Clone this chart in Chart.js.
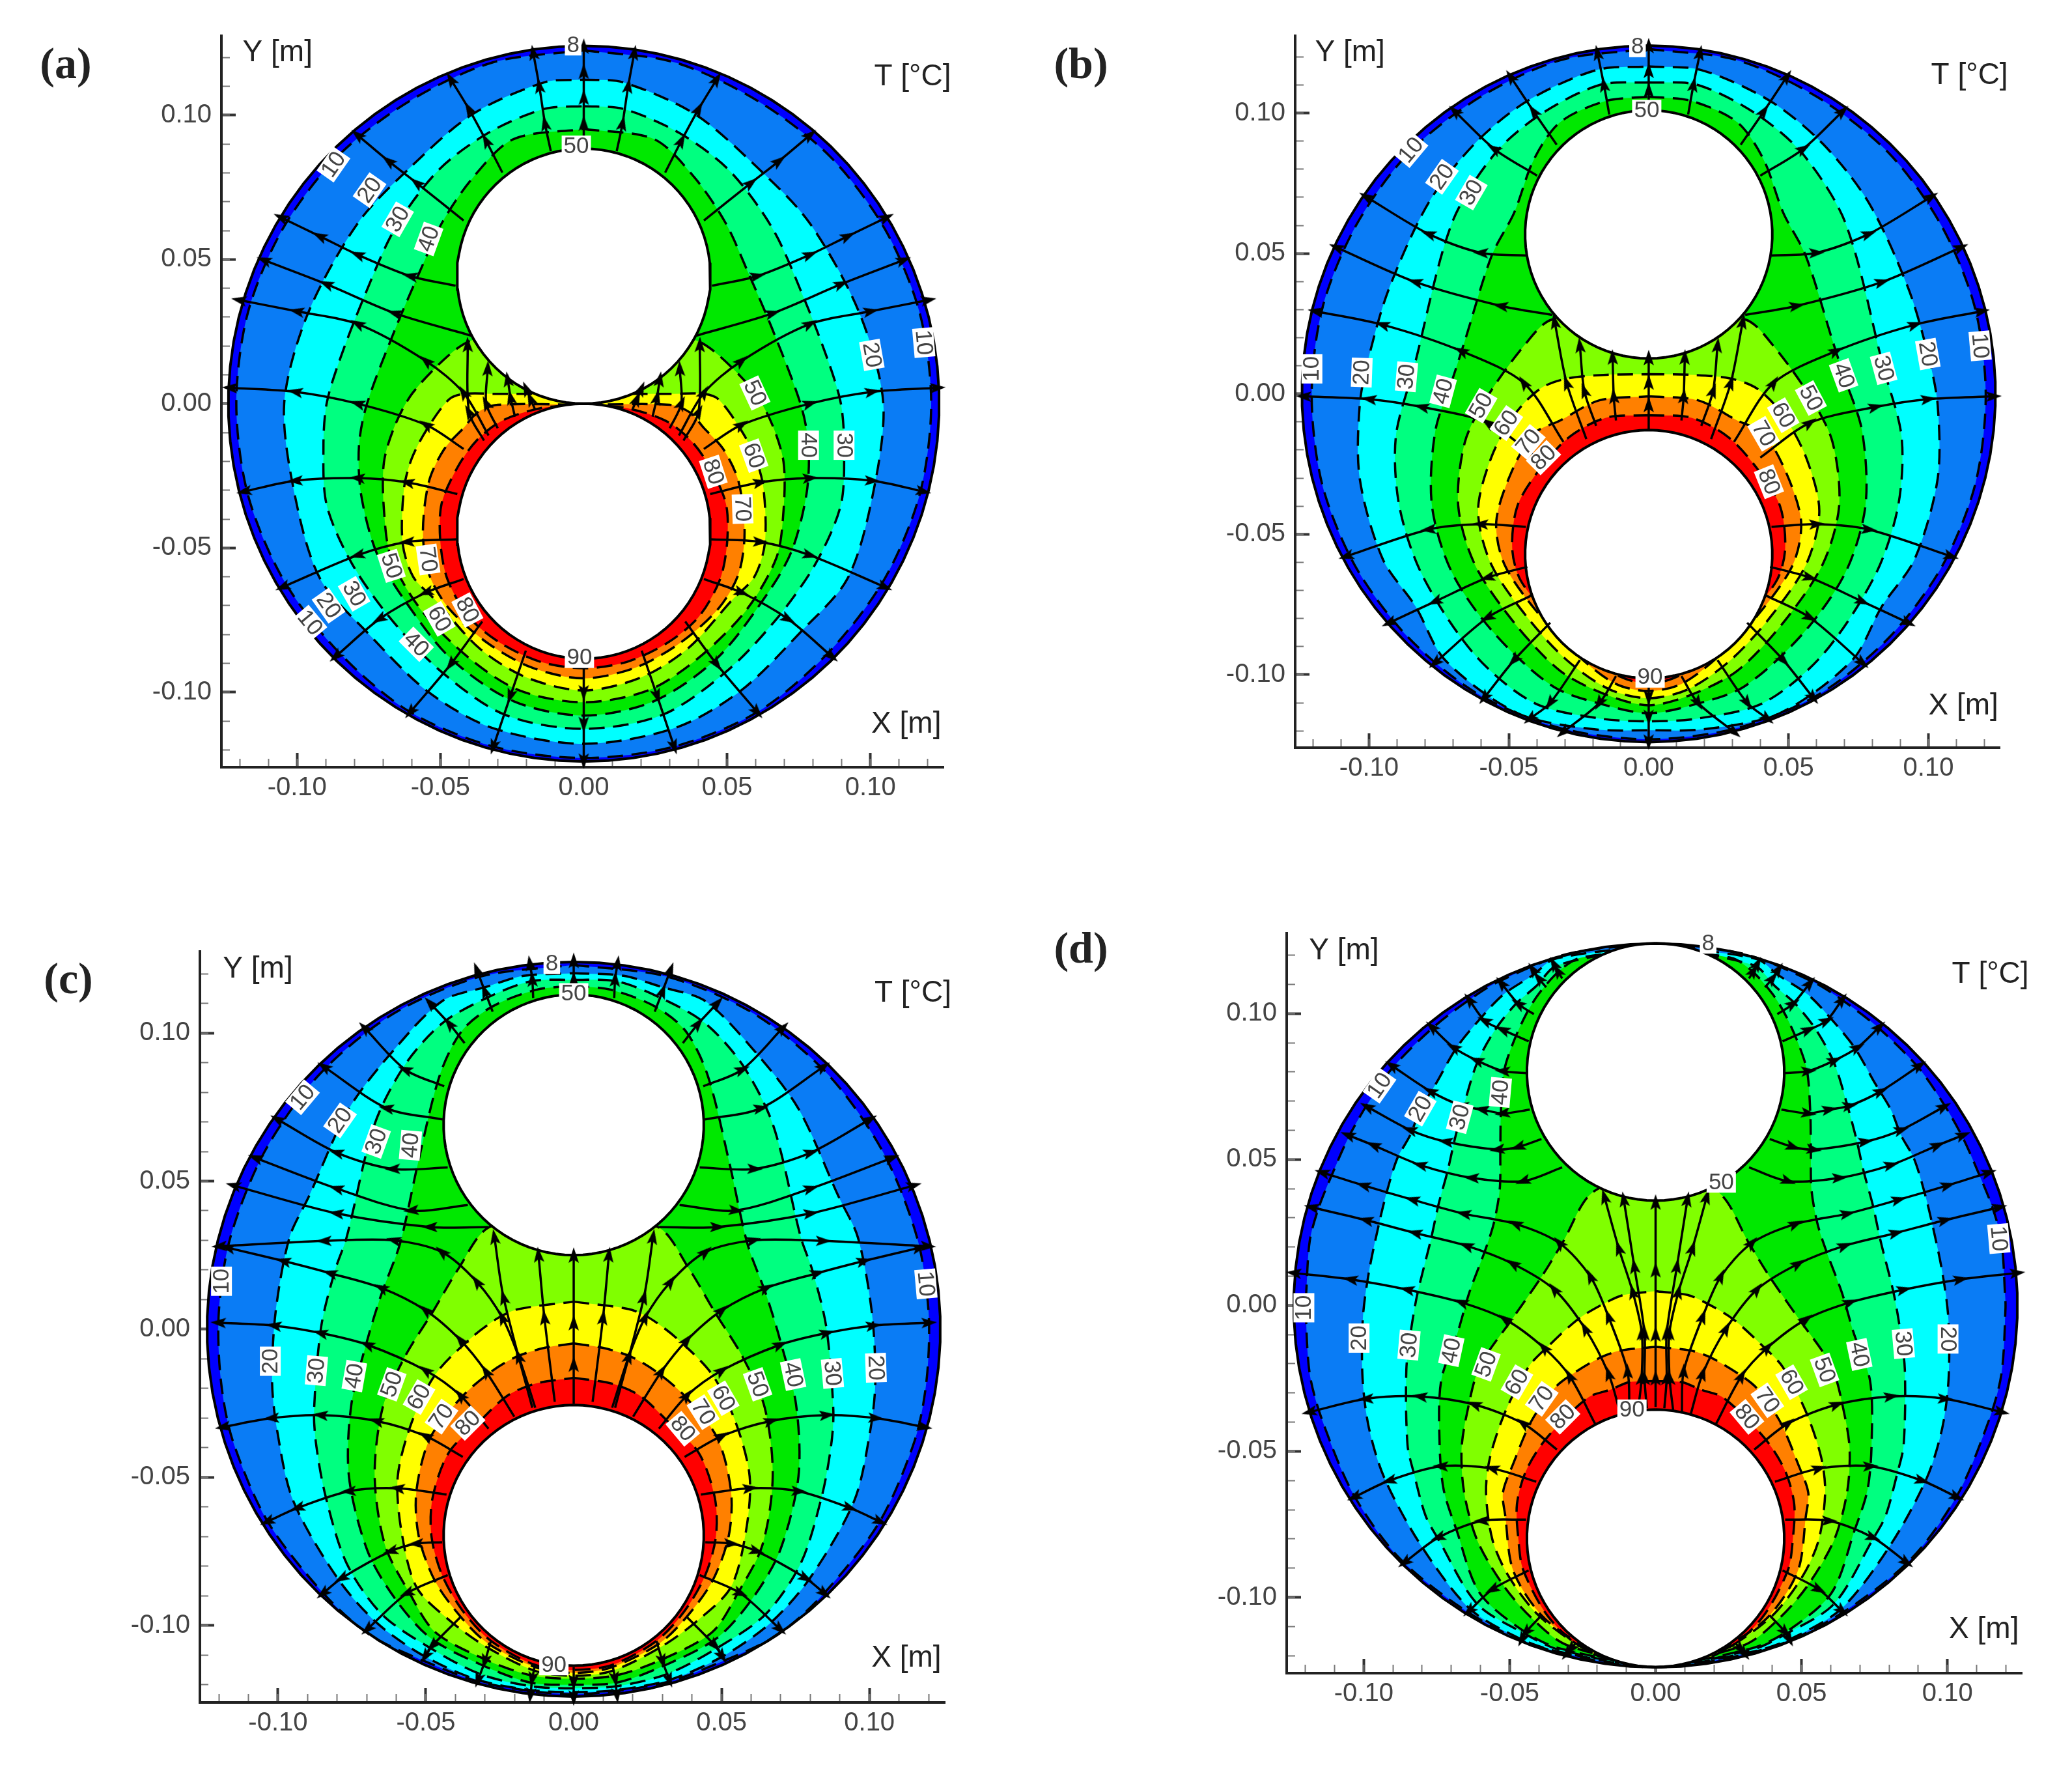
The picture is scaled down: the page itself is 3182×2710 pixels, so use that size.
<!DOCTYPE html>
<html>
<head>
<meta charset="utf-8">
<title>Temperature field between two pipes</title>
<script src="https://cdn.jsdelivr.net/npm/chart.js@4/dist/chart.umd.js"></script>
<style>
  html, body { margin: 0; padding: 0; background: #fff; }
  #page { position: relative; width: 3182px; height: 2710px; overflow: hidden; }
  canvas { position: absolute; }
  .letter { position: absolute; font: bold 68px "Liberation Serif", serif; color: #222; transform: translate(-50%, -50%); }
</style>
</head>
<body>
<div id="page"></div>
<script>
// Values, in metres. Every contour and flux line is the
// right half only (x >= 0), the plots are mirror images about X = 0.
const panelNames = ['(a)', '(b)', '(c)', '(d)'];
const contourLevels = [10, 20, 30, 40, 50, 60, 70, 80];
const tickLabels = ['-0.10', '-0.05', '0.00', '0.05', '0.10'];

const outerRadius = [0.124, 0.124, 0.124, 0.124];
const pipeRadius = [0.0442, 0.0442, 0.0440, 0.0441];
const upperPipeY = [0.0442, 0.0568, 0.0690, 0.0800];
const lowerPipeY = [-0.0442, -0.0571, -0.0696, -0.0798];

const contoursA = [
  [[0,.1225],[.0317,.1183],[.0606,.105],[.0858,.0858],[.105,.0606],[.1172,.0314],[.1212,0],[.1172,-.0314],[.105,-.0606],[.0858,-.0858],[.0612,-.1065],[.0317,-.1188],[0,-.1228]],
  [[0,.1123],[.0137,.1114],[.0387,.1004],[.0604,.082],[.0788,.0626],[.0962,.0313],[.1045,0],[.1005,-.0331],[.0919,-.0608],[.0756,-.0792],[.0549,-.0994],[.0321,-.1123],[0,-.1179]],
  [[0,.1031],[.0137,.1022],[.0332,.0939],[.0506,.081],[.0658,.0608],[.0767,.0368],[.0853,.0147],[.0897,0],[.0908,-.0144],[.0897,-.035],[.081,-.0552],[.068,-.0737],[.0506,-.0921],[.0278,-.1077],[0,-.1127]],
  [[0,.0952],[.0245,.0917],[.0387,.0783],[.0495,.0626],[.0571,.046],[.0658,.0258],[.0756,0],[.0784,-.0144],[.0777,-.0313],[.0723,-.0516],[.0625,-.0681],[.0463,-.0884],[.0245,-.1031],[0,-.1081]],
  [[0,.03],[.0387,.0221],[.0473,.0166],[.0597,.0037],[.0658,-.0074],[.0697,-.0203],[.0697,-.0368],[.0672,-.0534],[.0565,-.0718],[.0397,-.0884],[.0224,-.0994],[0,-.1035]],
  [[0,.0034],[.013,.0034],[.03,.0034],[.0418,.0034],[.047,.0015],[.0548,-.009],[.06,-.019],[.0627,-.0294],[.0632,-.0482],[.0595,-.06],[.0517,-.0681],[.0365,-.0847],[.0202,-.0948],[0,-.0994]],
  [[0,-.0004],[.03,-.0004],[.037,-.003],[.0418,-.0083],[.0487,-.0158],[.054,-.027],[.0561,-.0445],[.054,-.059],[.047,-.071],[.0335,-.083],[.018,-.0915],[0,-.0952]],
  [[0,-.0005],[.0148,-.0015],[.0287,-.006],[.0374,-.0128],[.044,-.022],[.0496,-.0347],[.05,-.0482],[.0475,-.061],[.04,-.074],[.029,-.083],[.015,-.0895],[0,-.0917]]
];
const contoursB = [
  [[0,.1228],[.0317,.1188],[.0606,.1055],[.0858,.0858],[.1045,.0602],[.1165,.0312],[.1205,0],[.1168,-.032],[.105,-.0612],[.0862,-.0865],[.0612,-.1068],[.0317,-.119],[0,-.123]],
  [[0,.1166],[.0188,.1153],[.0434,.1043],[.0622,.0891],[.0786,.0682],[.0927,.0379],[.0998,.0142],[.1033,-.0038],[.1033,-.0303],[.0951,-.0588],[.0833,-.0758],[.0728,-.0948],[.0469,-.1137],[.02,-.1194],[0,-.1198]],
  [[0,.1109],[.0176,.11],[.0387,.0995],[.0552,.0853],[.0704,.0607],[.084,.0091],[.0904,-.0152],[.0892,-.0398],[.081,-.0645],[.0622,-.0929],[.0411,-.11],[.0176,-.1156],[0,-.1166]],
  [[0,.1058],[.0153,.1043],[.0317,.0967],[.0411,.0834],[.0481,.0645],[.0561,.0493],[.0657,.019],[.0697,.0066],[.0763,-.0133],[.0775,-.0398],[.0704,-.0635],[.0552,-.0853],[.034,-.1043],[.0153,-.1109],[0,-.1137]],
  [[0,.03],[.0345,.0265],[.0446,.0171],[.058,-.0015],[.0657,-.0171],[.0681,-.0398],[.0622,-.0607],[.0481,-.0815],[.0317,-.0986],[.0153,-.1071],[0,-.1109]],
  [[0,.007],[.015,.0068],[.029,.0055],[.0387,.0019],[.0481,-.0076],[.0563,-.0227],[.061,-.0417],[.0563,-.0607],[.0434,-.0796],[.0293,-.0948],[.0141,-.1052],[0,-.1084]],
  [[0,-.0009],[.0176,-.0023],[.0317,-.0095],[.0411,-.0142],[.0493,-.0284],[.0545,-.0455],[.0516,-.0607],[.0399,-.0777],[.0246,-.0938],[.0117,-.1033],[0,-.1058]],
  [[0,-.0076],[.0153,-.0085],[.0282,-.0152],[.0387,-.0265],[.0469,-.0398],[.0488,-.055],[.0458,-.0664],[.0352,-.0796],[.0223,-.0929],[.0106,-.1005],[0,-.1033]]
];
const contoursC = [
  [[0,.123],[.0317,.119],[.061,.1065],[.086,.086],[.1045,.06],[.1161,.031],[.12,.0058],[.1193,-.0174],[.1153,-.0376],[.1035,-.0649],[.0847,-.0891],[.0689,-.1032],[.0501,-.1122],[.03,-.1195],[0,-.1232]],
  [[0,.1202],[.0169,.1193],[.0295,.1156],[.0443,.1109],[.0601,.0951],[.0759,.0746],[.0896,.0447],[.0961,.031],[.1008,.0058],[.102,-.0174],[.1004,-.0335],[.0949,-.0578],[.0799,-.084],[.0666,-.0991],[.0508,-.1102],[.0327,-.1183],[.0146,-.1218],[0,-.1225]],
  [[0,.118],[.0148,.1174],[.0295,.1118],[.0443,.1034],[.0569,.0895],[.0674,.069],[.0768,.031],[.0807,.0199],[.0854,.0008],[.0878,-.0275],[.087,-.0396],[.0838,-.0568],[.0768,-.079],[.065,-.0961],[.0492,-.1072],[.0319,-.1163],[.0146,-.1205],[0,-.1212]],
  [[0,.1159],[.0126,.1146],[.0274,.109],[.0379,.1006],[.0453,.0857],[.0527,.0559],[.0587,.029],[.065,.0119],[.0697,-.0033],[.0752,-.0255],[.076,-.0497],[.0697,-.0749],[.0603,-.0911],[.0485,-.1042],[.0312,-.1133],[.0146,-.1193],[0,-.12]],
  [[0,.04],[.0285,.0345],[.039,.0204],[.0477,.0058],[.0571,-.0093],[.0646,-.0265],[.0673,-.0497],[.0638,-.0729],[.0555,-.0891],[.0469,-.1022],[.0303,-.1113],[.0146,-.1168],[0,-.118]],
  [[0,.0093],[.0186,.0068],[.0256,.0038],[.0351,-.0033],[.0469,-.0154],[.0548,-.0315],[.0595,-.0497],[.0583,-.0679],[.0532,-.087],[.0422,-.0981],[.0296,-.1072],[.0131,-.1153],[0,-.117]],
  [[0,-.0048],[.0099,-.0063],[.0194,-.0093],[.028,-.0144],[.0375,-.0225],[.0485,-.0366],[.0532,-.0547],[.0524,-.0699],[.0469,-.085],[.0382,-.0971],[.0288,-.1062],[.0123,-.1143],[0,-.116]],
  [[0,-.0164],[.0131,-.0184],[.0225,-.0225],[.0312,-.0305],[.0422,-.0416],[.0477,-.0568],[.0481,-.0699],[.0445,-.083],[.0375,-.0951],[.028,-.1052],[.0131,-.1133],[0,-.115]]
];
const contoursD = [
  [[0,.124],[.03,.1205],[.0541,.1108],[.0647,.1041],[.0766,.0949],[.0903,.0812],[.0991,.0684],[.1053,.0574],[.1106,.0455],[.1154,.0336],[.1185,.0221],[.1197,.0045],[.1199,-.0008],[.1185,-.0235],[.1141,-.0397],[.1035,-.0648],[.0876,-.0868],[.0638,-.1054],[.04,-.117],[0,-.124]],
  [[0,.1235],[.0347,.1187],[.0417,.1134],[.0523,.1064],[.0603,.098],[.0682,.0883],[.0753,.0759],[.0806,.0671],[.0841,.0583],[.0885,.0504],[.0921,.0389],[.0947,.0283],[.0982,.0116],[.1003,-.0043],[.1004,-.0251],[.0982,-.0421],[.0929,-.0592],[.0806,-.0819],[.0638,-.1038],[.0462,-.1143],[.0338,-.1185],[0,-.1238]],
  [[0,.123],[.0338,.1165],[.0409,.1094],[.0479,.1033],[.055,.0944],[.0612,.083],[.0656,.0689],[.0687,.0574],[.0713,.0459],[.0744,.0345],[.0771,.0221],[.0815,.0045],[.0837,-.0078],[.0854,-.0219],[.085,-.0478],[.0828,-.0576],[.0788,-.0721],[.0744,-.0802],[.0612,-.1022],[.0444,-.1127],[.0329,-.118],[0,-.1235]],
  [[0,.122],[.0259,.1191],[.0329,.1147],[.04,.1068],[.0444,.0997],[.0488,.09],[.0519,.0803],[.053,.0662],[.0532,.053],[.0534,.0398],[.0554,.0283],[.0585,.0186],[.0638,.0045],[.0678,-.0092],[.0735,-.0259],[.074,-.0478],[.0726,-.0632],[.0682,-.077],[.0603,-.0985],[.0453,-.1115],[.0329,-.1175],[0,-.123]],
  [[0,.045],[.0214,.0389],[.032,.0213],[.0391,.0098],[.0488,-.0042],[.0603,-.021],[.0647,-.0373],[.0665,-.0495],[.0656,-.0641],[.0612,-.0803],[.0523,-.0957],[.0426,-.107],[.0303,-.1164],[0,-.1225]],
  [[0,.0049],[.0109,.0036],[.017,.001],[.0263,-.0045],[.0365,-.0137],[.0435,-.021],[.0515,-.0364],[.0567,-.0519],[.0581,-.0641],[.0559,-.0803],[.0506,-.0924],[.0409,-.1054],[.0285,-.1151],[.017,-.121],[0,-.122]],
  [[0,-.0142],[.0117,-.0154],[.0188,-.0178],[.0285,-.0235],[.0347,-.0284],[.0426,-.0397],[.0488,-.0543],[.0523,-.0641],[.0515,-.0721],[.0488,-.0908],[.0391,-.1062],[.0259,-.116],[.017,-.12],[0,-.1215]],
  [[0,-.0259],[.0091,-.0263],[.0153,-.0288],[.0232,-.0316],[.0373,-.0454],[.0444,-.0567],[.0475,-.0681],[.047,-.0803],[.0453,-.0908],[.0365,-.107],[.0241,-.1176],[0,-.121]]
];

// flux lines, listed from the warm end to the cold end
const fluxA = [
  [[0,.0884],[0,.097],[0,.106],[0,.115],[0,.1237]],
  [[.0115,.0875],[.0135,.097],[.0155,.11],[.0176,.1215]],
  [[.0284,.0801],[.034,.091],[.04,.102],[.0463,.1123]],
  [[.0419,.0635],[.0582,.0764],[.068,.084],[.0788,.093]],
  [[.0447,.0409],[.0604,.0442],[.0788,.0516],[.092,.058],[.1055,.0645]],
  [[.0393,.0236],[.0658,.0313],[.0897,.0414],[.1114,.0497]],
  [[.0332,-.011],[.0419,.0037],[.0549,.0147],[.0788,.0276],[.1,.032],[.1201,.0359]],
  [[.0419,-.0157],[.0549,-.0074],[.0788,0],[.1005,.0041],[.1233,.0055]],
  [[.0441,-.0313],[.0615,-.0273],[.0788,-.0258],[.1005,-.0267],[.1183,-.0304]],
  [[.0441,-.047],[.0615,-.0479],[.0788,-.0525],[.1049,-.0635]],
  [[.0419,-.0608],[.0549,-.0654],[.0712,-.0746],[.0864,-.0875]],
  [[.0354,-.0755],[.0463,-.0902],[.0604,-.1068]],
  [[.0202,-.0856],[.0256,-.1013],[.0315,-.1188]],
  [[0,-.0884],[0,-.1],[0,-.111],[0,-.1237]],
  [[.0348,-.0128],[.04,-.003],[.0405,.0203]],
  [[.03,-.0085],[.034,0],[.0335,.012]],
  [[.024,-.0045],[.0255,.002],[.0265,.0083]],
  [[.017,-.002],[.0185,.0015],[.02,.005]]
];
const fluxB = [
  [[0,.1009],[0,.108],[0,.115],[0,.1238]],
  [[.0141,.0995],[.016,.11],[.0183,.1213]],
  [[.0329,.0887],[.0411,.1005],[.0493,.1128]],
  [[.0399,.0777],[.0552,.0872],[.0692,.1005]],
  [[.0439,.0493],[.0599,.0502],[.0786,.0569],[.1009,.0701]],
  [[.0345,.0281],[.0528,.0313],[.0833,.0398],[.1115,.0521]],
  [[.0305,-.0171],[.0446,.0038],[.0669,.0152],[.0951,.0246],[.119,.0294]],
  [[.0399,-.0227],[.0575,-.0104],[.081,-.0047],[.0998,-.0019],[.1232,-.0009]],
  [[.0439,-.0474],[.0599,-.0464],[.0786,-.0483],[.108,-.0578]],
  [[.0434,-.0616],[.0575,-.0654],[.0763,-.0739],[.0927,-.0815]],
  [[.0423,-.072],[.0575,-.0796],[.0763,-.0957]],
  [[.0352,-.0815],[.0481,-.0948],[.0587,-.1081]],
  [[.0246,-.0948],[.0352,-.11],[.0423,-.1156]],
  [[.0117,-.1005],[.0176,-.11],[.0305,-.1204]],
  [[0,-.1014],[0,-.108],[0,-.115],[0,-.1238]],
  [[.0117,-.0095],[.0125,-.001],[.0129,.0129]],
  [[.0188,-.0114],[.023,.001],[.0246,.0171]],
  [[.0223,-.0161],[.0293,.0038],[.0336,.0256]],
  [[0,-.0129],[0,-.004],[0,.004],[0,.0127]]
];
const fluxC = [
  [[0,.1133],[0,.118],[0,.1243]],
  [[.0137,.1118],[.014,.118],[.0148,.1234]],
  [[.0274,.1072],[.03,.114],[.0327,.1212]],
  [[.0369,.0966],[.042,.103],[.0485,.11]],
  [[.0438,.082],[.0569,.0876],[.0706,.1016]],
  [[.0443,.0708],[.0632,.0746],[.0843,.0885]],
  [[.0426,.0546],[.0611,.0541],[.0801,.0596],[.1001,.0708]],
  [[.0358,.0419],[.0548,.0401],[.0801,.0475],[.1075,.0578]],
  [[.0289,.0345],[.0485,.0345],[.0801,.0391],[.1149,.0485]],
  [[.013,-.0265],[.0186,-.0093],[.0241,.0038],[.0327,.0159],[.0445,.026],[.0607,.03],[.0843,.0298],[.1197,.028]],
  [[.0201,-.0295],[.0296,-.0144],[.0382,-.0038],[.05,.0063],[.065,.0139],[.0823,.0189],[.098,.023],[.1169,.0275]],
  [[.0288,-.0336],[.0382,-.0225],[.05,-.014],[.0697,-.0053],[.0855,-.0013],[.1012,.0012],[.12,.0022]],
  [[.0375,-.0431],[.05,-.0361],[.0666,-.031],[.0855,-.029],[.102,-.03],[.1185,-.033]],
  [[.043,-.0558],[.0595,-.0537],[.076,-.0547],[.0933,-.0603],[.1035,-.0649]],
  [[.0445,-.0719],[.0532,-.0724],[.0618,-.0749],[.0784,-.084],[.0847,-.0891]],
  [[.0426,-.083],[.0563,-.0891],[.0697,-.1012]],
  [[.0382,-.0971],[.0477,-.1067],[.0501,-.1103]],
  [[.028,-.1052],[.03,-.112],[.0323,-.1183]],
  [[.0131,-.1133],[.014,-.118],[.0146,-.1234]],
  [[0,-.1141],[0,-.119],[0,-.1243]],
  [[0,-.0252],[0,-.012],[0,.002],[0,.0248]],
  [[.0064,-.0245],[.0099,.0038],[.0119,.025]],
  [[.014,-.0265],[.0237,.0106],[.0268,.031]]
];
const fluxD = [
  [[.032,.112],[.0335,.1145],[.0348,.1169]],
  [[.0375,.109],[.04,.112],[.042,.115]],
  [[.0417,.0998],[.047,.1033],[.0528,.1103]],
  [[.0435,.0905],[.0523,.0944],[.0585,.0975],[.0638,.1046]],
  [[.0444,.0796],[.0523,.0803],[.0612,.0839],[.0691,.0883],[.0766,.0953]],
  [[.0431,.0671],[.0523,.0658],[.0594,.0671],[.0664,.0684],[.077,.0733],[.0903,.0821]],
  [[.0391,.057],[.047,.0543],[.0541,.0534],[.0718,.0561],[.0841,.0601],[.0987,.068]],
  [[.032,.0473],[.0453,.0426],[.0629,.0437],[.0806,.0481],[.0965,.0548],[.1053,.0583]],
  [[.009,-.0366],[.0096,-.0227],[.0161,-.004],[.0223,.0098],[.0329,.0213],[.0479,.0279],[.0656,.0314],[.0832,.0362],[.1,.0411],[.1141,.0455]],
  [[.012,-.0374],[.0161,-.0235],[.0241,-.0081],[.0347,.0054],[.0488,.0142],[.0647,.0204],[.0823,.0248],[.0991,.0292],[.1177,.0336]],
  [[.0206,-.0408],[.0294,-.0243],[.0382,-.0146],[.0515,-.0048],[.0665,.001],[.085,.0054],[.1044,.0089],[.1238,.0111]],
  [[.0338,-.0494],[.0453,-.0405],[.062,-.034],[.0806,-.0312],[.0991,-.032],[.1185,-.0365]],
  [[.0409,-.0604],[.0559,-.0559],[.0735,-.0551],[.0912,-.06],[.1031,-.0656]],
  [[.0444,-.0734],[.0594,-.0738],[.0744,-.0795],[.0859,-.088]],
  [[.0435,-.0908],[.0559,-.0973],[.0638,-.1046]],
  [[.0391,-.1062],[.0444,-.1119],[.0457,-.1143]],
  [[.0276,-.116],[.029,-.1176],[.0303,-.1192]],
  [[0,-.0348],[0,-.025],[0,-.01],[0,.012],[0,.0352]],
  [[.003,-.0352],[.0038,-.025],[.0038,-.0096],[.0073,.0133],[.0109,.0362]],
  [[.006,-.0358],[.0048,-.025],[.0047,-.0096],[.0078,.0045],[.0126,.0195],[.0175,.0371]]
];

// contour labels: text, x, y, angle in degrees
const labelsA = [
  ['8',-.0037,.1243,0],['50',-.0026,.0893,0],['90',-.0015,-.088,0],
  ['10',.1186,.0212,85],['20',.1005,.0169,80],['50',.0597,.0037,65],['60',.0593,-.018,70],['40',.0784,-.0144,90],['30',.0908,-.0144,90],['80',.0452,-.0236,72],['70',.0554,-.0365,88],
  ['10',-.0873,.0829,-55],['20',-.0747,.074,-55],['30',-.0649,.0639,-60],['40',-.0541,.0571,-70],['50',-.0671,-.0562,72],['70',-.0543,-.054,82],['60',-.0504,-.0746,60],['80',-.0406,-.0715,62],['30',-.0801,-.0659,60],['20',-.089,-.07,55],['10',-.0955,-.0759,50],['40',-.0584,-.0834,45]
];
const labelsB = [
  ['8',-.004,.1236,0],['50',-.0007,.101,0],['90',.0005,-.1009,0],
  ['10',-.085,.0868,-50],['20',-.0739,.0773,-55],['30',-.0634,.0717,-60],['10',-.1204,.0089,-90],['20',-.1026,.0076,-88],['30',-.0866,.0061,-85],['40',-.0735,.0009,-75],['50',-.0599,-.0042,-60],['60',-.0509,-.0104,-55],['70',-.043,-.0171,-50],['80',-.0376,-.0227,-45],
  ['10',.1185,.0171,85],['20',.0998,.0142,80],['30',.084,.0091,75],['40',.0697,.0066,70],['50',.058,-.0015,62],['60',.0481,-.0076,60],['70',.0411,-.0142,60],['80',.043,-.0313,68]
];
const labelsC = [
  ['8',-.0074,.1234,0],['50',0,.1133,0],['90',-.0067,-.1133,0],
  ['10',-.0917,.0783,-50],['20',-.079,.0705,-55],['30',-.0668,.0634,-70],['40',-.0552,.0621,-85],['10',-.1191,.0162,-90],['20',-.1026,-.0108,-90],['30',-.087,-.014,-85],['40',-.0742,-.0158,-80],['50',-.0615,-.0186,-70],['60',-.0523,-.0229,-60],['70',-.0447,-.0295,-55],['80',-.0358,-.0317,-45],
  ['10',.1191,.0153,85],['20',.1022,-.013,88],['30',.0875,-.0149,85],['40',.0742,-.0153,78],['50',.0622,-.0186,70],['60',.0506,-.0233,60],['70',.0438,-.028,58],['80',.0369,-.0336,50]
];
const labelsD = [
  ['8',.018,.1241,0],['50',.0225,.0422,0],['90',-.0081,-.0358,0],
  ['10',-.0946,.0753,-55],['20',-.0806,.0674,-60],['30',-.0671,.0645,-75],['40',-.0532,.073,-85],['10',-.1205,-.0008,-90],['20',-.1016,-.0112,-90],['30',-.0845,-.0136,-85],['40',-.07,-.0155,-78],['50',-.0581,-.0202,-70],['60',-.0475,-.0263,-60],['70',-.039,-.032,-55],['80',-.0318,-.0382,-45],
  ['10',.1176,.0229,85],['20',.1002,-.0115,90],['30',.0849,-.0131,85],['40',.0698,-.0168,78],['50',.0579,-.0221,70],['60',.0466,-.0263,60],['70',.0383,-.0325,55],['80',.0313,-.0382,50]
];

// axis captions, same place in all four plots
const captions = [['Y [m]', -.1068, .1215], ['T [\u00b0C]', .1147, .1133], ['X [m]', .1125, -.1112]];

// colour bands, coldest first (8-10 ... 80-90)
const bandColors = ['#0000ff', '#0a7cf5', '#00ffff', '#00ff80', '#00e800', '#80ff00', '#ffff00', '#ff8000', '#ff0000'];

// where each plot sits on the page: left, top, right, bottom of the plot area
const plotBoxes = [[340, 55, 1449, 1178], [1989, 55, 3071, 1148], [307, 1461, 1451, 2614], [1976, 1433, 3105, 2569]];
const letterSpots = [[101, 97], [1660, 97], [105, 1502], [1660, 1455]];
const xRange = [-0.1264, 0.1255];
const yRange = [-0.126, 0.1275];

const contourSets = [contoursA, contoursB, contoursC, contoursD];
const fluxSets = [fluxA, fluxB, fluxC, fluxD];
const labelSets = [labelsA, labelsB, labelsC, labelsD];

// narrow arrow head, tip up, used as the point style of the flux lines
const arrowHead = document.createElement('canvas');
arrowHead.width = 20;
arrowHead.height = 28;
(function() {
  var c = arrowHead.getContext('2d');
  c.fillStyle = '#000';
  c.beginPath();
  c.moveTo(10, 1);
  c.lineTo(18, 25);
  c.lineTo(10, 20);
  c.lineTo(2, 25);
  c.closePath();
  c.fill();
})();

function toPoints(list) {
  return list.map(function(p) { return { x: p[0], y: p[1] }; });
}

// right half, then back up the left side
function closedContour(half) {
  var left = half.slice(0, -1).reverse().map(function(p) { return [-p[0], p[1]]; });
  return toPoints(half.concat(left));
}

function mirrored(line) {
  return line.map(function(p) { return [-p[0], p[1]]; });
}

function circle(cy, r) {
  var pts = [];
  for (var a = 0; a <= 360; a += 4) {
    var t = a * Math.PI / 180;
    pts.push({ x: r * Math.sin(t), y: cy + r * Math.cos(t) });
  }
  return pts;
}

function fillSet(points, color, tension) {
  return { data: points, showLine: true, fill: 'shape', backgroundColor: color, borderColor: color, borderWidth: 0, pointRadius: 0, tension: tension, clip: false };
}

function outlineSet(points, dash, tension) {
  return { data: points, showLine: true, fill: false, borderColor: '#000', borderWidth: dash.length ? 3.5 : 4, borderDash: dash, pointRadius: 0, tension: tension, clip: false };
}

function fluxSet(line) {
  // arrow heads sit on every point but the first and point along the line
  var rot = line.map(function(p, i) {
    var a = line[Math.max(i - 1, 0)], b = line[Math.max(i, 1)];
    return Math.atan2(b[0] - a[0], b[1] - a[1]) * 180 / Math.PI;
  });
  var sizes = line.map(function(p, i) { return i == 0 ? 0 : 9; });
  return {
    data: toPoints(line), showLine: true, fill: false, borderColor: '#000', borderWidth: 3.5, tension: 0.3, clip: false,
    pointStyle: arrowHead, pointRadius: sizes, pointRotation: rot
  };
}

function buildDatasets(n) {
  var sets = [];
  sets.push(fillSet(circle(0, outerRadius[n]), bandColors[0], 0));
  contourSets[n].forEach(function(half, i) {
    sets.push(fillSet(closedContour(half), bandColors[i + 1], 0.3));
  });
  contourSets[n].forEach(function(half, i) {
    var line = outlineSet(closedContour(half), [24, 13], 0.3);
    line.label = contourLevels[i] + ' \u00b0C';
    sets.push(line);
  });
  // pipes are white holes drawn over the field
  sets.push(fillSet(circle(upperPipeY[n], pipeRadius[n]), '#fff', 0));
  sets.push(fillSet(circle(lowerPipeY[n], pipeRadius[n]), '#fff', 0));
  fluxSets[n].forEach(function(line) {
    sets.push(fluxSet(line));
    if (line[0][0] != 0) sets.push(fluxSet(mirrored(line)));
  });
  sets.push(outlineSet(circle(upperPipeY[n], pipeRadius[n]), [], 0));
  sets.push(outlineSet(circle(lowerPipeY[n], pipeRadius[n]), [], 0));
  sets.push(outlineSet(circle(0, outerRadius[n]), [], 0));
  // first in the array is painted last, so turn the order round
  sets.forEach(function(s, i) { s.order = sets.length - i; });
  return sets;
}

// white boxed contour labels and the axis captions
const textPlugin = {
  id: 'plotText',
  afterDatasetsDraw: function(chart, args, opts) {
    var ctx = chart.ctx, xs = chart.scales.x, ys = chart.scales.y;
    ctx.save();
    ctx.textAlign = 'center';
    ctx.textBaseline = 'middle';
    ctx.font = '35px "Liberation Sans", Arial, sans-serif';
    opts.labels.forEach(function(l) {
      var w = ctx.measureText(l[0]).width + 6;
      ctx.save();
      ctx.translate(xs.getPixelForValue(l[1]), ys.getPixelForValue(l[2]));
      ctx.rotate(l[3] * Math.PI / 180);
      ctx.fillStyle = '#fff';
      ctx.fillRect(-w / 2, -16, w, 32);
      ctx.fillStyle = '#444';
      ctx.fillText(l[0], 0, 1);
      ctx.restore();
    });
    ctx.font = '46px "Liberation Sans", Arial, sans-serif';
    ctx.fillStyle = '#222';
    captions.forEach(function(c) {
      ctx.fillText(c[0], xs.getPixelForValue(c[1]), ys.getPixelForValue(c[2]));
    });
    ctx.restore();
  }
};

function axisLabel(v) {
  var i = Math.round(v / 0.05) + 2;
  return tickLabels[i];
}

function makeChart(n) {
  var box = plotBoxes[n];
  var padLeft = 150, padTop = 30, padRight = 40, padBottom = 70;
  var canvas = document.createElement('canvas');
  canvas.width = box[2] - box[0] + padLeft + padRight;
  canvas.height = box[3] - box[1] + padTop + padBottom;
  canvas.style.left = (box[0] - padLeft) + 'px';
  canvas.style.top = (box[1] - padTop) + 'px';
  document.getElementById('page').appendChild(canvas);

  var tickFont = { family: '"Liberation Sans", Arial, sans-serif', size: 40 };
  new Chart(canvas, {
    type: 'scatter',
    data: { datasets: buildDatasets(n) },
    plugins: [textPlugin],
    options: {
      responsive: false,
      animation: false,
      devicePixelRatio: 1,
      layout: { padding: { top: padTop, right: padRight } },
      plugins: { legend: { display: false }, tooltip: { enabled: false }, plotText: { labels: labelSets[n] } },
      scales: {
        x: {
          type: 'linear', position: 'bottom', min: xRange[0], max: xRange[1],
          afterFit: function(s) { s.height = padBottom; },
          border: { color: '#222', width: 4 },
          grid: { drawOnChartArea: false, tickLength: -22, tickWidth: 4, tickColor: '#333' },
          ticks: { stepSize: 0.05, includeBounds: false, autoSkip: false, maxRotation: 0, padding: 30, color: '#444', font: tickFont, callback: axisLabel }
        },
        y: {
          type: 'linear', position: 'left', min: yRange[0], max: yRange[1],
          // the big tick padding would otherwise push the plot area down
          afterFit: function(s) { s.width = padLeft; s.paddingTop = 0; s.paddingBottom = 0; },
          border: { color: '#222', width: 4 },
          grid: { drawOnChartArea: false, tickLength: -22, tickWidth: 4, tickColor: '#333' },
          ticks: { stepSize: 0.05, includeBounds: false, autoSkip: false, padding: 37, color: '#444', font: tickFont, callback: axisLabel }
        },
        // the short ticks every 0.01 are a second pair of axes without labels
        xMinor: {
          type: 'linear', axis: 'x', position: { y: yRange[0] }, min: xRange[0], max: xRange[1],
          afterFit: function(s) { s.height = 0; },
          border: { display: false },
          grid: { drawOnChartArea: false, tickLength: -13, tickWidth: 2, tickColor: '#777' },
          ticks: { display: false, stepSize: 0.01, includeBounds: false, autoSkip: false }
        },
        yMinor: {
          type: 'linear', axis: 'y', position: { x: xRange[0] }, min: yRange[0], max: yRange[1],
          afterFit: function(s) { s.width = 0; },
          border: { display: false },
          grid: { drawOnChartArea: false, tickLength: -13, tickWidth: 2, tickColor: '#777' },
          ticks: { display: false, stepSize: 0.01, includeBounds: false, autoSkip: false }
        }
      }
    }
  });

  var letter = document.createElement('div');
  letter.className = 'letter';
  letter.textContent = panelNames[n];
  letter.style.left = letterSpots[n][0] + 'px';
  letter.style.top = letterSpots[n][1] + 'px';
  document.getElementById('page').appendChild(letter);
}

for (var n = 0; n < 4; n++) makeChart(n);
</script>
</body>
</html>
